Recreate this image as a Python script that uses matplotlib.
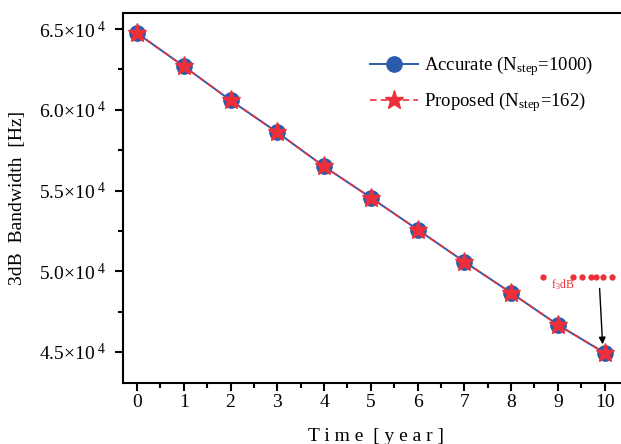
import numpy as np
import matplotlib
matplotlib.use("Agg")
import matplotlib.pyplot as plt
from matplotlib.ticker import MultipleLocator, FuncFormatter

# ── Data ─────────────────────────────────────────────────────────────────────
years = [0, 1, 2, 3, 4, 5, 6, 7, 8, 9, 10]
accurate = [64750, 62700, 60590, 58600, 56490, 54560, 52580, 50590, 48660, 46680, 44940]
proposed = [64750, 62700, 60590, 58600, 56490, 54560, 52580, 50590, 48660, 46680, 44940]
f3db_x = [8.68, 9.32, 9.51, 9.70, 9.81, 9.96, 10.15]
f3db_y = [49660] * len(f3db_x)

BLUE = "#2a5cab"
RED = "#ee2f3a"

plt.rcParams.update({
    "font.family": "Liberation Serif",
    "mathtext.fontset": "custom",
    "mathtext.rm": "Liberation Serif",
    "mathtext.it": "Liberation Serif:italic",
})

fig = plt.figure(figsize=(6.21, 4.44), dpi=100)
ax = fig.add_axes([123 / 621, 61 / 444, 505 / 621, 370 / 444])

ax.plot(years, accurate, color=BLUE, lw=1.4, marker="o", ms=11,
        mfc=BLUE, mec=BLUE, label=r"Accurate (N$_{\mathrm{step}}$=1000)", zorder=3)
ax.plot(years, proposed, color=RED, lw=1.2, ls=(0, (4, 2.5)), marker="*", ms=14,
        mfc=RED, mec=RED, label=r"Proposed (N$_{\mathrm{step}}$=162)", zorder=4)

# f3dB marker row + arrow
ax.plot(f3db_x, f3db_y, ls="none", marker="o", ms=3.5, color=RED, zorder=5)
ax.text(8.85, 49150, "f$_3$dB", color=RED, fontsize=8.5, ha="left", va="center")
ax.annotate("", xy=(9.96, 45300), xytext=(9.89, 49100),
            arrowprops=dict(arrowstyle="-|>", color="black", lw=1.0,
                            mutation_scale=10))

ax.set_xlim(-0.3, 10.5)
ax.set_ylim(43075, 66000)
ax.xaxis.set_major_locator(MultipleLocator(1))
ax.xaxis.set_minor_locator(MultipleLocator(0.5))
ax.yaxis.set_major_locator(MultipleLocator(5000))
ax.yaxis.set_minor_locator(MultipleLocator(2500))
ax.yaxis.set_major_formatter(FuncFormatter(lambda v, _: f"{v / 1e4:.1f}×10$^{{\\ 4}}$"))

ax.tick_params(which="major", direction="out", length=6, width=1.5, labelsize=14)
ax.tick_params(axis="y", which="major", pad=6)
ax.tick_params(axis="x", which="major", pad=2)
ax.tick_params(which="minor", direction="out", length=3.5, width=1.5)
for s in ax.spines.values():
    s.set_linewidth(1.5)

ax.set_xlabel("T i m e  [ y e a r ]", fontsize=14, labelpad=12)
ax.set_ylabel("3dB  Bandwidth  [Hz]", fontsize=14, labelpad=10)

ax.legend(loc="upper right", bbox_to_anchor=(0.965, 0.935), frameon=False,
          fontsize=13.5, handlelength=2.6, handletextpad=0.3, labelspacing=0.65)

fig.savefig("out.png", dpi=100)
